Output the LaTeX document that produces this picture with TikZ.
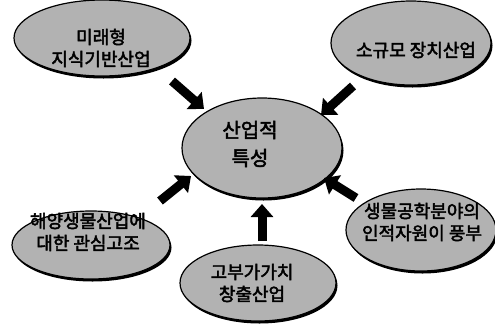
\documentclass[tikz,border=0pt]{standalone}
\usepackage{fontspec}
\setmainfont{Noto Sans CJK KR}[AutoFakeBold=2.5]
\usetikzlibrary{shapes.geometric,arrows.meta,shadows}
\begin{document}
\begin{tikzpicture}[x=1pt,y=-1pt,
  oval/.style={ellipse,draw=black,line width=1.2pt,fill=black!30,inner sep=0pt,
    drop shadow={shadow xshift=1.5pt,shadow yshift=-2.5pt,fill=black,opacity=1}},
  lbl/.style={align=center,font=\fontsize{18}{22}\selectfont\bfseries,text=black},
  blk/.style={line width=9pt,-{Triangle[width=22pt,length=13pt]}}]
\useasboundingbox[fill=white] (0,0) rectangle (495,325);
\node[oval,minimum width=176pt,minimum height=76pt] (tl) at (102,38) {};
\node[oval,minimum width=160pt,minimum height=84pt] (tr) at (411,43) {};
\node[oval,minimum width=160pt,minimum height=100pt] (c) at (262,148) {};
\node[oval,minimum width=158pt,minimum height=68pt] (lb) at (91,245) {};
\node[oval,minimum width=150pt,minimum height=82pt] (rb) at (421,230) {};
\node[oval,minimum width=156pt,minimum height=76pt] (b) at (258,283) {};
\node[lbl] (tlt) at (101,48) {미래형\\지식기반산업};
\node[lbl] (trt) at (416,50) {소규모 장치산업};
\node[lbl,font=\fontsize{20}{28}\selectfont\bfseries] (ct) at (250,144) {산업적\\특성};
\node[lbl] (lbt) at (88,232) {해양생물산업에\\대한 관심고조};
\node[lbl] (rbt) at (422,222) {생물공학분야의\\인적자원이 풍부};
\node[lbl] (bt) at (252,283) {고부가가치\\창출산업};
\coordinate (a1s) at (172,81); \coordinate (a1e) at (204,109);
\coordinate (a2s) at (353,86); \coordinate (a2e) at (321,115);
\coordinate (a3s) at (160,201); \coordinate (a3e) at (191,176);
\coordinate (a4s) at (356,198); \coordinate (a4e) at (324,178);
\coordinate (a5s) at (262,241); \coordinate (a5e) at (262,204);
\draw[blk] (a1s) -- (a1e);
\draw[blk] (a2s) -- (a2e);
\draw[blk] (a3s) -- (a3e);
\draw[blk] (a4s) -- (a4e);
\draw[blk] (a5s) -- (a5e);
\end{tikzpicture}
\end{document}
